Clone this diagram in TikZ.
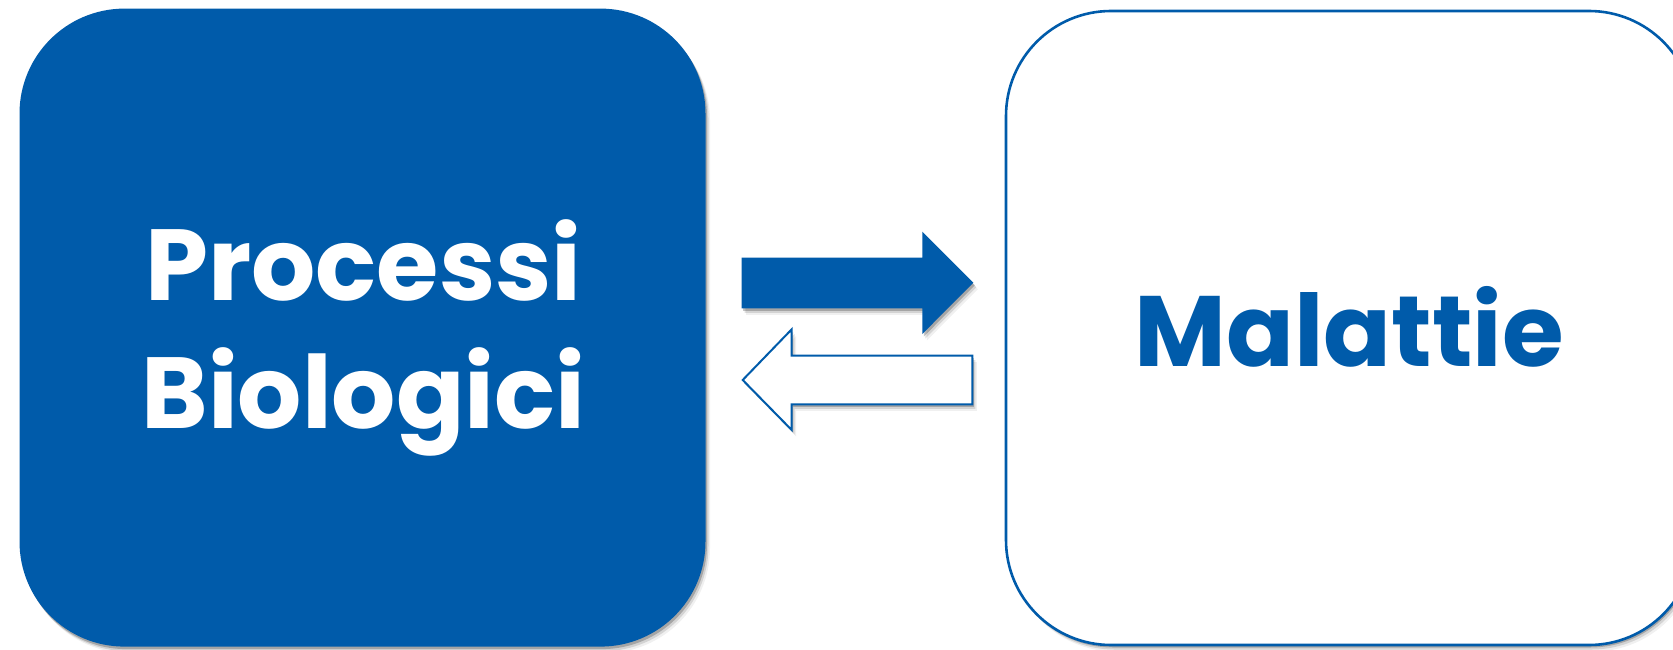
\documentclass[tikz,border=0pt]{standalone}
\usepackage{fontspec}
\setmainfont{Poppins}
\usetikzlibrary{shadows}
\definecolor{brandblue}{RGB}{0,91,170}
\tikzset{
  softshadow/.style={
    drop shadow={shadow xshift=1.5pt,shadow yshift=-2.5pt,opacity=.22,fill=black},
    drop shadow={shadow xshift=3pt,shadow yshift=-4.5pt,opacity=.12,fill=black},
    drop shadow={shadow xshift=4.5pt,shadow yshift=-6.5pt,opacity=.06,fill=black}},
  panel/.style={rectangle,rounded corners=105pt,inner sep=0pt,softshadow},
  biglabel/.style={font=\bfseries\fontsize{#1}{#1}\selectfont,inner sep=0pt,anchor=base}
}
\begin{document}
\begin{tikzpicture}[x=1pt,y=-1pt]
\useasboundingbox (0,0) rectangle (1673,650);
\clip (0,0) rectangle (1673,650);
% two panels
\node[panel,fill=brandblue,minimum width=686pt,minimum height=638pt] (bio) at (362.5,327.6) {};
\node[panel,fill=white,draw=brandblue,line width=2.6pt,minimum width=688pt,minimum height=634pt] (dis) at (1350,328) {};
% labels
\node[biglabel=101,text=white] (l1) at (363.5,300.7) {Processi};
\node[biglabel=101,text=white] (l2) at (363.5,428.3) {Biologici};
\node[biglabel=100,text=brandblue] (l3) at (1349,366) {Malattie};
% forward arrow (filled)
\coordinate (fa) at (741.7,282.7);
\fill[brandblue,softshadow] (fa) ++(0,-25) -- (922.3,257.7) -- (922.3,231.7) -- (973.3,282.7)
  -- (922.3,334) -- (922.3,308.3) -- (741.7,308.3) -- cycle;
% backward arrow (outline)
\coordinate (ba) at (742.7,380);
\draw[brandblue,fill=white,line width=2pt,line join=miter,softshadow] (ba) -- (791.7,329.3) -- (791.7,355.7)
  -- (972.3,355.7) -- (972.3,404.3) -- (791.7,404.3) -- (791.7,430) -- cycle;
\end{tikzpicture}
\end{document}
